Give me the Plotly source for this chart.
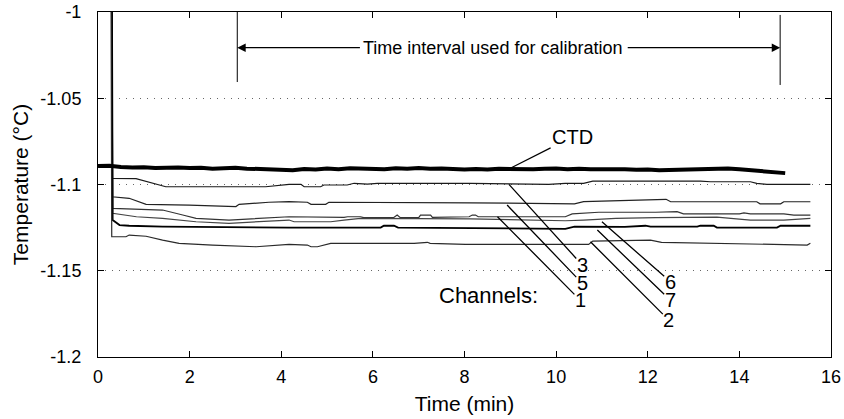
import plotly.graph_objects as go

# ---------------- data ----------------
x_tickvals = [0, 2, 4, 6, 8, 10, 12, 14, 16]
x_ticktext = ["0", "2", "4", "6", "8", "10", "12", "14", "16"]
y_tickvals = [-1.2, -1.15, -1.1, -1.05, -1.0]
y_ticktext = ["-1.2", "-1.15", "-1.1", "-1.05", "-1"]

ctd_time = [0.0, 0.25, 0.5, 0.75, 1.0, 1.25, 1.5, 1.75, 2.0, 2.25, 2.5, 2.75, 3.0, 3.25, 3.5, 3.75,
            4.0, 4.25, 4.5, 4.75, 5.0, 5.25, 5.5, 5.75, 6.0, 6.25, 6.5, 6.75, 7.0, 7.25, 7.5, 7.75,
            8.0, 8.25, 8.5, 8.75, 9.0, 9.25, 9.5, 9.75, 10.0, 10.25, 10.5, 10.75, 11.0, 11.25, 11.5,
            11.75, 12.0, 12.25, 12.5, 12.75, 13.0, 13.25, 13.5, 13.75, 14.0, 14.25, 14.5, 14.75, 15.0]
ctd_temp = [-1.0893, -1.0891, -1.0898, -1.0902, -1.0900, -1.0905, -1.0903, -1.0901, -1.0905, -1.0903,
            -1.0908, -1.0905, -1.0903, -1.0908, -1.0911, -1.0909, -1.0914, -1.0917, -1.0910, -1.0913,
            -1.0907, -1.0911, -1.0906, -1.0909, -1.0907, -1.0911, -1.0906, -1.0909, -1.0905, -1.0909,
            -1.0907, -1.0911, -1.0913, -1.0910, -1.0913, -1.0909, -1.0911, -1.0908, -1.0912, -1.0909,
            -1.0907, -1.0911, -1.0908, -1.0912, -1.0910, -1.0913, -1.0911, -1.0915, -1.0913, -1.0917,
            -1.0915, -1.0912, -1.0909, -1.0906, -1.0904, -1.0907, -1.0912, -1.0918, -1.0925, -1.0930,
            -1.0934]

ch3_time = [0.0, 0.29, 0.31, 0.83, 1.48, 3.66, 4.17, 4.43, 4.50, 4.86, 4.93, 5.44, 5.59, 5.88, 6.10,
            8.13, 9.84, 10.2, 10.6, 10.8, 13.15, 13.37, 14.24, 14.38, 14.6, 15.55]
ch3_temp = [-0.95, -0.95, -1.0964, -1.0966, -1.1013, -1.1013, -1.0999, -1.0999, -1.1013, -1.1013,
            -1.1003, -1.1003, -1.0993, -1.0998, -1.0993, -1.0993, -1.0999, -1.0993, -1.0993, -1.0980,
            -1.0980, -1.0984, -1.0984, -1.0993, -1.0999, -1.0999]

ch5_time = [0.0, 0.29, 0.31, 0.68, 1.05, 1.99, 3.01, 3.08, 3.73, 4.17, 4.57, 4.65, 4.97, 5.04, 8.13,
            10.4, 10.6, 12.0, 12.4, 12.5, 14.38, 14.45, 14.9, 14.97, 15.55]
ch5_temp = [-0.95, -0.95, -1.1071, -1.1080, -1.1115, -1.1119, -1.1128, -1.1115, -1.1103, -1.1099,
            -1.1103, -1.1115, -1.1115, -1.1103, -1.1106, -1.1112, -1.1099, -1.1086, -1.1086, -1.1100,
            -1.1100, -1.1112, -1.1112, -1.1100, -1.1100]

ch1_time = [0.0, 0.3, 0.32, 0.68, 1.41, 1.85, 2.14, 2.86, 3.59, 4.17, 5.37, 5.45, 5.73, 5.8, 6.45,
            6.53, 6.6, 7.0, 7.04, 7.26, 7.3, 8.1, 8.17, 8.24, 8.3, 10.2, 10.35, 10.93, 12.17, 12.64,
            12.78, 14.0, 14.1, 14.24, 14.97, 15.19, 15.55]
ch1_temp = [-0.95, -0.95, -1.1138, -1.1142, -1.1148, -1.1177, -1.1196, -1.1206, -1.1196, -1.1187,
            -1.1190, -1.1187, -1.1187, -1.1192, -1.1192, -1.1177, -1.1192, -1.1192, -1.1177, -1.1177,
            -1.1190, -1.1187, -1.1177, -1.1177, -1.1187, -1.1187, -1.1170, -1.1161, -1.1161, -1.1157,
            -1.1170, -1.1170, -1.1164, -1.1170, -1.1170, -1.1177, -1.1177]

ch6_time = [0.0, 0.3, 0.32, 0.84, 1.41, 2.14, 2.86, 3.59, 4.17, 4.28, 4.57, 5.08, 5.37, 5.73, 8.13,
            10.2, 10.6, 11.3, 12.17, 13.51, 14.24, 14.97, 15.55]
ch6_temp = [-0.95, -0.95, -1.1167, -1.1187, -1.1196, -1.1216, -1.1225, -1.1216, -1.1206, -1.1216,
            -1.1216, -1.1216, -1.1206, -1.1196, -1.1199, -1.1210, -1.1206, -1.1196, -1.1192, -1.1189,
            -1.1206, -1.1206, -1.1196]

ch7_time = [0.0, 0.3, 0.32, 0.47, 0.68, 1.41, 4.17, 6.17, 6.24, 6.46, 6.55, 8.02, 10.2, 10.4, 10.93,
            11.5, 11.95, 12.06, 13.08, 13.15, 13.44, 13.51, 14.82, 14.9, 15.55]
ch7_temp = [-0.95, -0.95, -1.1206, -1.1235, -1.1239, -1.1244, -1.1250, -1.1250, -1.1239, -1.1239,
            -1.1250, -1.1254, -1.1257, -1.1244, -1.1244, -1.1246, -1.1239, -1.1244, -1.1244, -1.1239,
            -1.1239, -1.1250, -1.1250, -1.1239, -1.1239]

ch2_time = [0.0, 0.28, 0.3, 0.61, 0.68, 1.05, 1.41, 1.77, 2.5, 2.86, 3.45, 4.17, 4.57, 4.65, 4.79,
            5.08, 6.9, 7.19, 7.25, 8.02, 10.71, 10.8, 12.06, 12.3, 13.51, 15.04, 15.48, 15.55]
ch2_temp = [-0.95, -0.95, -1.1303, -1.1303, -1.1293, -1.1300, -1.1322, -1.1341, -1.1351, -1.1355,
            -1.1361, -1.1347, -1.1351, -1.1361, -1.1361, -1.1341, -1.1341, -1.1335, -1.1341, -1.1347,
            -1.1347, -1.1328, -1.1322, -1.1335, -1.1341, -1.1351, -1.1351, -1.1341]

# calibration interval (min)
calib_start = 3.04
calib_end = 14.89

# channel label pointer targets (time, temperature)
label_names = ["3", "5", "1", "6", "7", "2"]
label_point_time = [8.97, 8.93, 8.72, 11.0, 10.9, 10.75]
label_point_temp = [-1.0999, -1.1119, -1.1187, -1.1216, -1.1264, -1.1332]
ctd_point = (9.0, -1.0906)

# ---------------- figure ----------------
FONT = "Liberation Sans, Arial, Helvetica, sans-serif"
fig = go.Figure()

channels = [
    (ch3_time, ch3_temp, "#1a1a1a", 1.2),
    (ch5_time, ch5_temp, "#222222", 1.2),
    (ch1_time, ch1_temp, "#333333", 1.2),
    (ch6_time, ch6_temp, "#444444", 1.2),
    (ch7_time, ch7_temp, "#000000", 1.8),
    (ch2_time, ch2_temp, "#2a2a2a", 1.2),
]
for t, v, c, w in channels:
    fig.add_trace(go.Scatter(x=t, y=v, mode="lines", line=dict(color=c, width=w),
                             hoverinfo="skip"))

fig.add_trace(go.Scatter(x=ctd_time, y=ctd_temp, mode="lines",
                         line=dict(color="black", width=4), hoverinfo="skip"))

annotations = []
annotations.append(dict(x=(calib_start + calib_end) / 2 - 0.35, y=-1.0207, xref="x", yref="y",
                        text="Time interval used for calibration", showarrow=False,
                        font=dict(size=18, color="black", family=FONT)))
annotations.append(dict(x=calib_start, y=-1.0207, ax=5.75, ay=-1.0207, axref="x", ayref="y",
                        xref="x", yref="y", text="", showarrow=True, arrowhead=2,
                        arrowsize=1.4, arrowwidth=1.2, arrowcolor="black"))
annotations.append(dict(x=calib_end, y=-1.0207, ax=11.53, ay=-1.0207, axref="x", ayref="y",
                        xref="x", yref="y", text="", showarrow=True, arrowhead=2,
                        arrowsize=1.4, arrowwidth=1.2, arrowcolor="black"))
annotations.append(dict(x=ctd_point[0], y=ctd_point[1], ax=10.36, ay=-1.0723, axref="x", ayref="y",
                        xref="x", yref="y", text="CTD", showarrow=True, arrowhead=0,
                        arrowwidth=1.2, arrowcolor="black",
                        font=dict(size=20, color="black", family=FONT)))
annotations.append(dict(x=8.53, y=-1.1646, xref="x", yref="y", text="Channels:",
                        showarrow=False, font=dict(size=22, color="black", family=FONT)))
label_pos = [(10.57, -1.1467), (10.57, -1.1573), (10.53, -1.1672),
             (12.49, -1.1563), (12.49, -1.1670), (12.46, -1.1786)]
for name, pt, pv, (lx, ly) in zip(label_names, label_point_time, label_point_temp, label_pos):
    annotations.append(dict(x=pt, y=pv, ax=lx, ay=ly, axref="x", ayref="y", xref="x", yref="y",
                            text=name, showarrow=True, arrowhead=0, arrowwidth=1.3,
                            arrowcolor="black", borderpad=0, height=16,
                            font=dict(size=20, color="black", family=FONT)))

shapes = [
    dict(type="line", xref="x", yref="y", x0=calib_start, x1=calib_start, y0=-1.0, y1=-1.0406,
         line=dict(color="black", width=1)),
    dict(type="line", xref="x", yref="y", x0=calib_end, x1=calib_end, y0=-1.0017, y1=-1.0423,
         line=dict(color="black", width=1)),
]

fig.update_layout(
    template="none",
    width=844, height=419,
    margin=dict(l=98, r=13, t=12, b=62),
    paper_bgcolor="white", plot_bgcolor="white",
    showlegend=False,
    font=dict(family=FONT, size=18, color="black"),
    annotations=annotations,
    shapes=shapes,
    xaxis=dict(range=[0, 16], tickvals=x_tickvals, ticktext=x_ticktext, ticks="inside",
               ticklen=6, tickcolor="black", mirror="allticks", showline=True, linecolor="black",
               linewidth=1, showgrid=False, zeroline=False, automargin=False,
               tickfont=dict(size=18), ticklabelstandoff=3,
               title=dict(text="Time (min)", font=dict(size=21), standoff=10)),
    yaxis=dict(range=[-1.2, -1.0], tickvals=y_tickvals, ticktext=y_ticktext, ticks="inside",
               ticklen=6, tickcolor="black", mirror="allticks", showline=True, linecolor="black",
               linewidth=1, showgrid=True, gridcolor="#666666", griddash="1px,6px", gridwidth=1.3,
               zeroline=False, automargin=False, tickfont=dict(size=18), ticklabelstandoff=12,
               title=dict(text="Temperature (°C)", font=dict(size=21), standoff=6)),
)

fig.write_html("out.html", config={"displayModeBar": False},
               post_script="document.body.style.margin='0';document.body.style.overflow='hidden';")
